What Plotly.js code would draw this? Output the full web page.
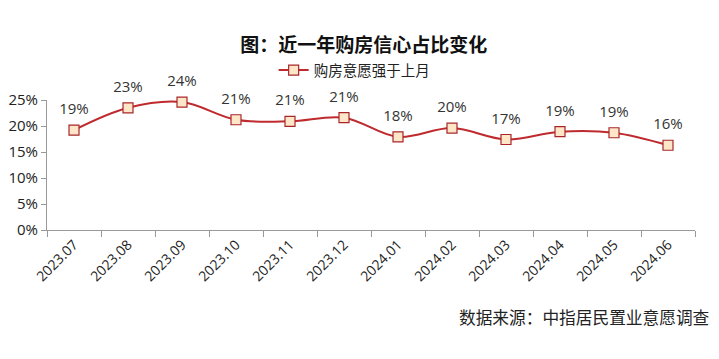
<!DOCTYPE html>
<html>
<head>
<meta charset="utf-8">
<script src="https://cdn.plot.ly/plotly-3.0.1.min.js"></script>
<style>html,body{margin:0;padding:0;background:#fff;}#chart{width:719px;height:359px;}</style>
</head>
<body>
<div id="chart"></div>
<script>
const months = ["2023.07","2023.08","2023.09","2023.10","2023.11","2023.12","2024.01","2024.02","2024.03","2024.04","2024.05","2024.06"];
const values = [19.2, 23.5, 24.6, 21.2, 20.9, 21.6, 17.9, 19.6, 17.4, 18.9, 18.7, 16.3];
const labels = ["19%","23%","24%","21%","21%","21%","18%","20%","17%","19%","19%","16%"];
const yTicks = [0,5,10,15,20,25];
const yTickText = ["0%","5%","10%","15%","20%","25%"];

const font = '"Open Sans", "Noto Sans CJK SC", sans-serif';
const trace = {
  x: months, y: values, type: 'scatter', mode: 'lines+markers',
  name: '购房意愿强于上月',
  line: {color: '#BE2A2E', width: 2, shape: 'spline', smoothing: 1.0},
  marker: {symbol: 'square', size: 10, color: '#FFE6C8', line: {color: '#A8262A', width: 1.2}},
  cliponaxis: false
};
const labelTrace = {
  x: months, y: values, type: 'scatter', mode: 'markers+text',
  text: labels, textposition: 'top center', showlegend: false, hoverinfo: 'skip',
  textfont: {family: font, size: 15, color: '#333'},
  marker: {size: 18, opacity: 0},
  cliponaxis: false
};
const layout = {
  width: 719, height: 359,
  margin: {l: 47, r: 24, t: 100, b: 129, autoexpand: false},
  paper_bgcolor: '#fff', plot_bgcolor: '#fff',
  title: {text: '<b>图：近一年购房信心占比变化</b>', x: 0.506, xanchor: 'center', y: 0.875, yanchor: 'middle',
    font: {family: '"Noto Sans CJK SC", sans-serif', size: 19, color: '#111'}},
  showlegend: true,
  legend: {orientation: 'h', x: 0.474, xanchor: 'center', y: 1.23, yanchor: 'middle',
    font: {family: '"Noto Sans CJK SC", sans-serif', size: 14.5, color: '#222'}, bgcolor: 'rgba(0,0,0,0)'},
  xaxis: {type: 'category', range: [-0.5, 11.5], tickangle: -45, ticks: 'outside', tickson: 'boundaries', ticklen: 6, automargin: false,
    tickcolor: '#999', showline: true, linecolor: '#999', linewidth: 1, showgrid: false, zeroline: false,
    tickfont: {family: font, size: 14, color: '#222'}},
  yaxis: {range: [0, 25], tickvals: yTicks, ticktext: yTickText, ticks: 'outside', ticklen: 5, automargin: false,
    tickcolor: '#999', showline: true, linecolor: '#999', linewidth: 1, showgrid: false, zeroline: false,
    tickfont: {family: font, size: 15, color: '#222'}},
  annotations: [{text: '数据来源：中指居民置业意愿调查', xref: 'paper', yref: 'paper', x: 1.027, xanchor: 'right',
    y: -0.67, yanchor: 'middle', showarrow: false,
    font: {family: '"Noto Sans CJK SC", sans-serif', size: 16.7, color: '#222'}}]
};
Plotly.newPlot('chart', [trace, labelTrace], layout, {displayModeBar: false, staticPlot: true});
</script>
</body>
</html>
